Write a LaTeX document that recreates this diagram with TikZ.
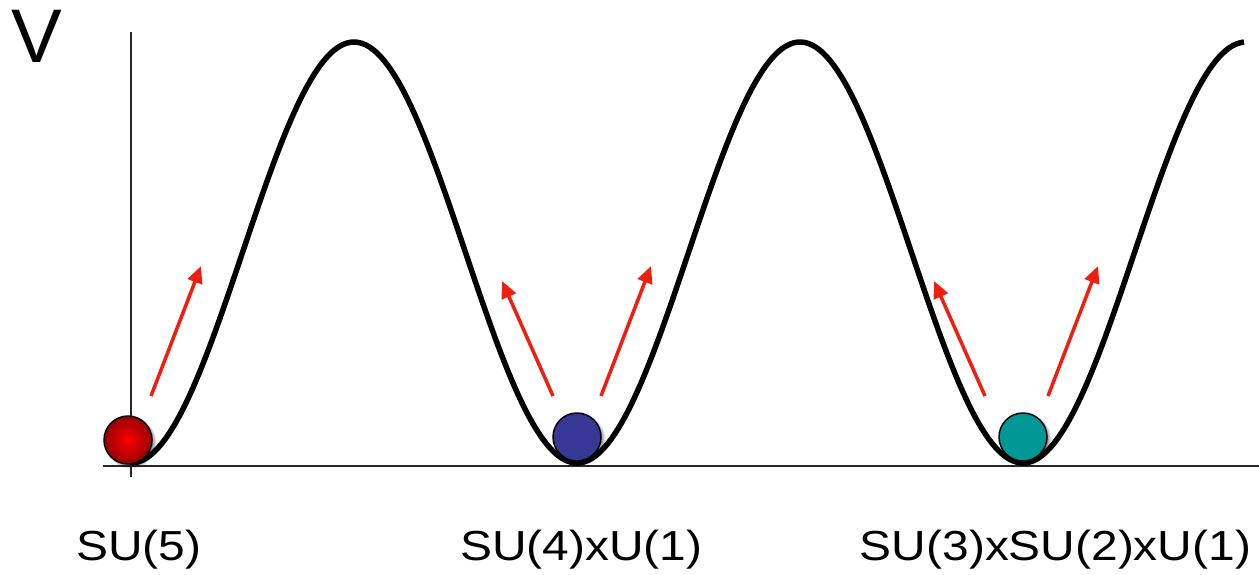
\documentclass[tikz,border=0pt]{standalone}
\usepackage{fontspec}
\setmainfont{Liberation Sans}
\usetikzlibrary{arrows.meta,shadows.blur}
\tikzset{
  axis/.style={line width=1.8pt, black!85},
  pot/.style={line width=5.5pt, black, line join=round},
  kick/.style={line width=3.5pt, color={rgb,255:red,238;green,30;blue,16}, -{Triangle[length=17pt,width=15pt]}},
  ballnode/.style={circle, minimum size=48pt, inner sep=0pt, draw=black, line width=1.5pt,
     blur shadow={shadow xshift=3pt, shadow yshift=-3pt, shadow blur steps=6, shadow opacity=40}},
  lab/.style={anchor=base, font=\fontsize{42}{42}\selectfont, xscale=1.14, inner sep=0pt}
}
\definecolor{ballblue}{RGB}{55,56,150}
\definecolor{ballteal}{RGB}{0,152,150}
\begin{document}
\begin{tikzpicture}[x=1pt,y=-1pt]
\useasboundingbox (0,0) rectangle (1259,574);
% axes
\coordinate (ytop) at (131,32);
\coordinate (ybot) at (131,477);
\coordinate (xl) at (103,466);
\coordinate (xr) at (1259,466);
\draw[axis] (ybot) -- (ytop);
\draw[axis] (xl) -- (xr);
% potential
\draw[pot] plot[domain=131:1244, samples=300, smooth] (\x, {252.5+210.5*cos(0.807175*(\x-131))});
% balls
\node[ballnode, shading=radial, inner color={rgb,255:red,255;green,0;blue,0}, outer color={rgb,255:red,150;green,0;blue,0}] (b1) at (128,440) {};
\node[ballnode, fill=ballblue] (b2) at (577,437) {};
\node[ballnode, fill=ballteal] (b3) at (1023,437) {};
% arrows
\coordinate (a1s) at (151,396); \coordinate (a1e) at (201,266);
\coordinate (a2s) at (553,396); \coordinate (a2e) at (502,281);
\coordinate (a3s) at (601,396); \coordinate (a3e) at (651,266);
\coordinate (a4s) at (985,396); \coordinate (a4e) at (934,281);
\coordinate (a5s) at (1048,396); \coordinate (a5e) at (1098,266);
\draw[kick] (a1s) -- (a1e);
\draw[kick] (a2s) -- (a2e);
\draw[kick] (a3s) -- (a3e);
\draw[kick] (a4s) -- (a4e);
\draw[kick] (a5s) -- (a5e);
% labels
\node[anchor=base, font=\fontsize{76}{76}\selectfont, inner sep=0pt] (V) at (37,62) {V};
\node[lab] (l1) at (139,560) {SU(5)};
\node[lab] (l2) at (581.5,560) {SU(4)xU(1)};
\node[lab] (l3) at (1055.5,560) {SU(3)xSU(2)xU(1)};
\end{tikzpicture}
\end{document}
